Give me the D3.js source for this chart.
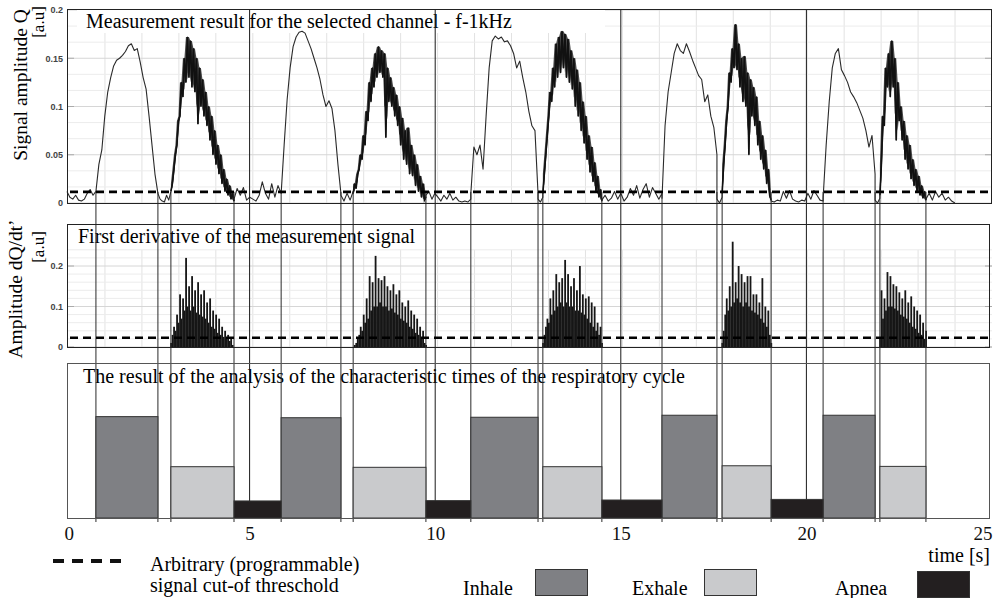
<!DOCTYPE html>
<html><head><meta charset="utf-8">
<script src="https://cdn.jsdelivr.net/npm/d3@7"></script>
<style>body{margin:0;background:#fff} svg{display:block}</style>
</head><body><svg id="c" width="994" height="598"></svg>
<script>
// ---------------- DATA ----------------
const xTicks = [0, 5, 10, 15, 20, 25];
const qTicks = [0, 0.05, 0.1, 0.15, 0.2];
const dqTicks = [0, 0.1, 0.2];
const thresholdQ = 0.0115;
const thresholdDQ = 0.023;
const markerTimes = [5, 10, 15, 20];

const inhaleStart = [0.86, 5.85, 10.96, 16.11, 20.45];
const inhaleEnd   = [2.53, 7.46, 12.77, 17.59, 21.85];
const exhaleStart = [2.88, 7.79, 12.90, 17.73, 21.98];
const exhaleEnd   = [4.58, 9.75, 14.49, 19.05, 23.22];
const apneaStart  = [4.58, 9.75, 14.49, 19.05];
const apneaEnd    = [5.85, 10.96, 16.11, 20.45];
const inhaleLevel = [0.654, 0.647, 0.65, 0.663, 0.663];
const exhaleLevel = [0.331, 0.327, 0.331, 0.337, 0.333];
const apneaLevel  = [0.11, 0.112, 0.116, 0.12];

// low-level (rest) parts of the signal Q between humps
const restStart = [0.08, 2.53, 4.58, 7.46, 9.75, 12.77, 14.49, 17.59, 19.05, 21.85, 23.22];
const restEnd   = [0.86, 2.88, 5.85, 7.79, 10.96, 12.90, 16.11, 17.73, 20.45, 21.98, 24.0];
const qRest = [
  [0.012,0.006,0.004,0.008,0.003,0.002,0.004,0.01,0.014,0.008,0.012],
  [0.01,0.004,0.002,0.001,0.008,0.003,0.012],
  [0.004,0.015,0.008,0.016,0.003,0.006,0.004,0.002,0.008,0.022,0.01,0.004,0.02,0.006,0.018,0.01],
  [0.008,0.002,0.01,0.003,0.012],
  [0.008,0.012,0.004,0.01,0.006,0.002,0.008,0.004,0.01,0.003,0.006,0.002,0.001,0.002,0.001,0.004],
  [0.004,0.001,0.006],
  [0.003,0.008,0.002,0.005,0.012,0.004,0.01,0.002,0.006,0.015,0.008,0.018,0.005,0.014,0.02,0.006,0.016,0.01,0.004,0.01],
  [0.004,0.0,0.006],
  [0.002,0.001,0.003,0.002,0.012,0.005,0.013,0.004,0.002,0.001,0.003,0.002,0.01,0.004,0.013,0.008,0.003,0.002],
  [0.003,0.0,0.005],
  [0.004,0.01,0.003,0.012,0.006,0.01,0.003,0.006,0.002,0.0]
];
// signal Q during inhale
const qInhale = [
  [0.012,0.04,0.055,0.09,0.115,0.13,0.142,0.148,0.15,0.153,0.157,0.163,0.165,0.158,0.16,0.146,0.13,0.118,0.09,0.06,0.03,0.01],
  [0.01,0.06,0.107,0.14,0.162,0.172,0.177,0.178,0.176,0.168,0.16,0.15,0.14,0.128,0.112,0.1,0.106,0.098,0.075,0.04,0.01],
  [0.01,0.058,0.05,0.06,0.035,0.09,0.14,0.168,0.173,0.17,0.172,0.167,0.168,0.163,0.155,0.14,0.147,0.13,0.115,0.095,0.08,0.075,0.01],
  [0.005,0.08,0.115,0.135,0.155,0.165,0.158,0.155,0.165,0.157,0.148,0.14,0.132,0.128,0.105,0.112,0.09,0.078,0.05],
  [0.005,0.06,0.105,0.14,0.155,0.16,0.138,0.132,0.125,0.115,0.11,0.104,0.096,0.088,0.075,0.058,0.07,0.03]
];
// signal Q during exhale (noisy)
const qExhale = [
  [0.012,0.02,0.035,0.05,0.06,0.085,0.09,0.125,0.11,0.15,0.125,0.172,0.13,0.168,0.12,0.16,0.115,0.15,0.082,0.14,0.1,0.128,0.09,0.115,0.08,0.1,0.065,0.09,0.05,0.075,0.04,0.06,0.03,0.05,0.02,0.035,0.012,0.025,0.008,0.018,0.004,0.01,0.002],
  [0.01,0.02,0.015,0.03,0.035,0.05,0.045,0.07,0.06,0.095,0.085,0.125,0.105,0.14,0.12,0.155,0.13,0.162,0.135,0.158,0.13,0.155,0.068,0.14,0.105,0.13,0.1,0.12,0.09,0.112,0.08,0.1,0.06,0.088,0.045,0.075,0.04,0.078,0.03,0.06,0.028,0.05,0.018,0.04,0.012,0.028,0.006,0.02,0.003,0.006],
  [0.01,0.03,0.05,0.07,0.09,0.115,0.105,0.14,0.12,0.165,0.13,0.172,0.135,0.178,0.14,0.175,0.13,0.17,0.125,0.158,0.118,0.15,0.1,0.138,0.09,0.125,0.075,0.105,0.062,0.09,0.045,0.07,0.032,0.058,0.022,0.042,0.012,0.028,0.006,0.014,0.002],
  [0.01,0.04,0.06,0.085,0.1,0.135,0.125,0.16,0.14,0.185,0.138,0.165,0.12,0.15,0.105,0.152,0.1,0.135,0.05,0.128,0.09,0.12,0.08,0.11,0.06,0.085,0.045,0.07,0.035,0.055,0.02,0.035,0.008,0.003],
  [0.008,0.04,0.09,0.08,0.14,0.12,0.155,0.11,0.168,0.12,0.15,0.065,0.125,0.085,0.1,0.065,0.085,0.045,0.07,0.035,0.06,0.025,0.045,0.018,0.035,0.012,0.028,0.008,0.018,0.005,0.012,0.003]
];
// first derivative dQ/dt' during exhale
const dqExhale = [
  [0.01,0.03,0.05,0.04,0.08,0.06,0.13,0.07,0.12,0.09,0.22,0.1,0.15,0.09,0.175,0.1,0.14,0.085,0.16,0.08,0.13,0.075,0.14,0.07,0.11,0.06,0.12,0.05,0.09,0.045,0.08,0.035,0.07,0.03,0.05,0.025,0.04,0.02,0.03,0.015,0.02,0.005,0.0],
  [0.0,0.005,0.01,0.02,0.03,0.05,0.04,0.08,0.06,0.12,0.07,0.175,0.09,0.16,0.1,0.225,0.1,0.17,0.11,0.165,0.1,0.175,0.1,0.15,0.09,0.14,0.095,0.155,0.085,0.13,0.08,0.14,0.07,0.11,0.065,0.1,0.06,0.115,0.05,0.09,0.045,0.08,0.035,0.07,0.03,0.05,0.02,0.04,0.01,0.005],
  [0.01,0.03,0.05,0.07,0.06,0.12,0.08,0.14,0.09,0.18,0.1,0.16,0.11,0.17,0.1,0.215,0.11,0.18,0.1,0.15,0.1,0.17,0.09,0.14,0.09,0.2,0.085,0.13,0.08,0.12,0.07,0.125,0.06,0.11,0.05,0.1,0.04,0.06,0.03,0.05,0.01],
  [0.01,0.04,0.08,0.12,0.09,0.15,0.1,0.26,0.11,0.16,0.12,0.2,0.11,0.18,0.1,0.16,0.11,0.175,0.1,0.175,0.09,0.13,0.085,0.13,0.08,0.11,0.07,0.17,0.06,0.1,0.05,0.09,0.03,0.01],
  [0.02,0.14,0.07,0.12,0.09,0.185,0.1,0.175,0.1,0.155,0.095,0.15,0.09,0.135,0.08,0.12,0.075,0.14,0.07,0.11,0.06,0.125,0.05,0.1,0.045,0.09,0.035,0.08,0.03,0.06,0.02,0.04]
];

// ---------------- DRAWING ----------------
const svg = d3.select("#c");
const serif = "'Liberation Serif','Times New Roman',serif";
const sans = "'Liberation Sans',Arial,sans-serif";

const L = 67, R = 992;
const x = d3.scaleLinear().domain([0, 25]).range([64, 992]);
const gx = d3.scaleLinear().domain([0, 25]).range([68, 992]);
const yQ = d3.scaleLinear().domain([0, 0.2]).range([203, 10]);
const yDQ = d3.scaleLinear().domain([0, 0.2]).range([347, 266]);
const yB = d3.scaleLinear().domain([0, 1]).range([518, 363]);

function seg(t0, t1, vals) {
  const n = vals.length;
  return vals.map((v, i) => [t0 + (t1 - t0) * i / (n - 1), v]);
}

// ---- grids ----
function grid(g, y0, y1, hVals) {
  g.selectAll(".vg").data(d3.range(1, 25)).join("line")
    .attr("x1", d => gx(d)).attr("x2", d => gx(d)).attr("y1", y0).attr("y2", y1)
    .attr("stroke", "#e2e2e2").attr("stroke-width", 1);
  g.selectAll(".hg").data(hVals).join("line")
    .attr("x1", L).attr("x2", R).attr("y1", d => d.y).attr("y2", d => d.y)
    .attr("stroke", d => d.major ? "#d6d6d6" : "#ececec").attr("stroke-width", 1);
}
grid(svg.append("g"), 10, 203, d3.range(0, 13).map(i => ({ y: yQ(i * 0.05 / 3), major: i % 3 === 0 })));
grid(svg.append("g"), yDQ(0.24), 347, d3.range(0, 13).map(i => ({ y: yDQ(i * 0.02), major: i % 5 === 0 })));

// title box (top)
svg.append("rect").attr("x", 77).attr("y", 10).attr("width", 528).attr("height", 23).attr("fill", "#fff");
svg.append("text").attr("x", 86).attr("y", 28).attr("font-family", serif).attr("font-size", 20)
  .text("Measurement result for the selected channel - f-1kHz");
svg.append("text").attr("x", 78).attr("y", 243).attr("font-family", serif).attr("font-size", 20)
  .text("First derivative of the measurement signal");
svg.append("text").attr("x", 83).attr("y", 383).attr("font-family", serif).attr("font-size", 20)
  .text("The result of the analysis of the characteristic times of the respiratory cycle");

// inner ticks
function innerTicks(vals, y) {
  vals.forEach(v => {
    svg.append("line").attr("x1", L).attr("x2", L + 7).attr("y1", y(v)).attr("y2", y(v)).attr("stroke", "#aaa");
    svg.append("line").attr("x1", R - 7).attr("x2", R).attr("y1", y(v)).attr("y2", y(v)).attr("stroke", "#aaa");
  });
}
innerTicks(qTicks.slice(1, 4), yQ);
innerTicks(dqTicks, yDQ);

// ---- signal Q ----
const pieces = [];
qRest.forEach((v, i) => pieces.push(seg(restStart[i], restEnd[i], v)));
qInhale.forEach((v, i) => pieces.push(seg(inhaleStart[i], inhaleEnd[i], v)));
const exPieces = qExhale.map((v, i) => seg(exhaleStart[i], exhaleEnd[i], v));
exPieces.forEach(p => pieces.push(p));
pieces.sort((a, b) => a[0][0] - b[0][0]);
const signal = pieces.flat();
const qLine = d3.line().x(d => x(d[0])).y(d => yQ(d[1]));
// dense band of the noisy exhale signal (local min/max of neighbouring samples)
const band = d3.area().x(d => x(d.t)).y0(d => yQ(d.lo)).y1(d => yQ(d.hi));
svg.append("g").selectAll("path").data(exPieces.map(p => p.map((d, i) => {
    const nb = p.slice(Math.max(0, i - 1), i + 2).map(e => e[1]);
    const s = nb.slice().sort((a, b) => a - b);
    return { t: d[0], lo: s.length > 2 ? (s[0] + s[1]) / 2 : s[0], hi: s[s.length - 1] };
  }))).join("path").attr("d", band).attr("fill", "#1a1a1a").attr("fill-opacity", 0.8);
svg.append("path").datum(signal).attr("d", qLine)
  .attr("fill", "none").attr("stroke", "#2a2a2a").attr("stroke-width", 1.1).attr("stroke-linejoin", "round");
svg.append("g").selectAll("path").data(exPieces).join("path").attr("d", qLine)
  .attr("fill", "none").attr("stroke", "#111").attr("stroke-width", 1.6).attr("stroke-linejoin", "miter");

// ---- derivative bars ----
const dqBars = [];
dqExhale.forEach((v, i) => seg(exhaleStart[i], exhaleEnd[i], v).forEach(p => dqBars.push(p)));
const bw = (x(exhaleEnd[0]) - x(exhaleStart[0])) / (dqExhale[0].length - 1);
svg.append("g").selectAll("rect").data(dqBars).join("rect")
  .attr("x", d => x(d[0]) - bw / 2).attr("width", bw + 0.3)
  .attr("y", d => yDQ(d[1])).attr("height", d => yDQ(0) - yDQ(d[1]))
  .attr("fill", "#161616");

// ---- vertical phase lines ----
const bounds = Array.from(new Set([...inhaleStart, ...inhaleEnd, ...exhaleStart, ...exhaleEnd])).sort((a, b) => a - b);
svg.append("g").selectAll("line").data(bounds).join("line")
  .attr("x1", d => x(d)).attr("x2", d => x(d)).attr("y1", yQ(thresholdQ)).attr("y2", 522)
  .attr("stroke", "#2a2a2a").attr("stroke-width", 1);
svg.append("g").selectAll("line").data(markerTimes).join("line")
  .attr("x1", d => x(d)).attr("x2", d => x(d)).attr("y1", 9).attr("y2", 518)
  .attr("stroke", "#1a1a1a").attr("stroke-width", 1);

// ---- thresholds ----
svg.append("line").attr("x1", 70).attr("x2", R).attr("y1", yQ(thresholdQ)).attr("y2", yQ(thresholdQ))
  .attr("stroke", "#000").attr("stroke-width", 2.6).attr("stroke-dasharray", "8,5");
svg.append("line").attr("x1", 70).attr("x2", 990).attr("y1", yDQ(thresholdDQ)).attr("y2", yDQ(thresholdDQ))
  .attr("stroke", "#000").attr("stroke-width", 2.6).attr("stroke-dasharray", "8,5");

// ---- bottom panel bars ----
const bars = [];
inhaleStart.forEach((s, i) => bars.push({ s, e: inhaleEnd[i], v: inhaleLevel[i], c: "#7f8084" }));
exhaleStart.forEach((s, i) => bars.push({ s, e: exhaleEnd[i], v: exhaleLevel[i], c: "#c9cacc" }));
apneaStart.forEach((s, i) => bars.push({ s, e: apneaEnd[i], v: apneaLevel[i], c: "#231f20" }));
svg.append("g").selectAll("rect").data(bars).join("rect")
  .attr("x", d => x(d.s)).attr("width", d => x(d.e) - x(d.s))
  .attr("y", d => yB(d.v)).attr("height", d => yB(0) - yB(d.v))
  .attr("fill", d => d.c).attr("stroke", "#333").attr("stroke-width", 1);

// ---- frames ----
svg.append("rect").attr("x", L + 0.5).attr("y", 9.5).attr("width", R - L - 1).attr("height", 194)
  .attr("fill", "none").attr("stroke", "#222");
svg.append("rect").attr("x", L + 0.5).attr("y", 224.5).attr("width", 990 - L - 1).attr("height", 123)
  .attr("fill", "none").attr("stroke", "#222");
svg.append("rect").attr("x", L + 0.5).attr("y", 363.5).attr("width", 990 - L - 1).attr("height", 155)
  .attr("fill", "none").attr("stroke", "#555");

// ---- y axes ----
function yAxis(scale, ticks) {
  const g = svg.append("g").attr("transform", `translate(${L},0)`)
    .call(d3.axisLeft(scale).tickValues(ticks).tickSize(0).tickPadding(4).tickFormat(d3.format("~g")));
  g.select(".domain").remove();
  g.selectAll("text").attr("font-family", sans).attr("font-size", 9).attr("font-weight", "bold").attr("fill", "#444");
}
yAxis(yQ, qTicks);
yAxis(yDQ, dqTicks);

function vtext(tx, ty, s, size) {
  svg.append("text").attr("transform", `translate(${tx},${ty}) rotate(-90)`)
    .attr("text-anchor", "middle").attr("font-family", serif).attr("font-size", size).text(s);
}
vtext(27, 85, "Signal amplitude Q", 19.5);
vtext(44, 22, "[a.u]", 17);
vtext(22, 289, "Amplitude dQ/dt\u2019", 19.5);
vtext(44, 247, "[a.u]", 17);

// ---- x axis ----
const xa = svg.append("g").attr("transform", "translate(0,518)")
  .call(d3.axisBottom(x).tickValues(xTicks).tickSize(0).tickPadding(9).tickFormat(d3.format("d")));
xa.select(".domain").remove();
xa.selectAll("text").attr("font-family", serif).attr("font-size", 19).attr("fill", "#111")
  .attr("text-anchor", d => d === 0 ? "start" : (d === 25 ? "end" : "middle"));
svg.append("text").attr("x", 990).attr("y", 562).attr("text-anchor", "end")
  .attr("font-family", serif).attr("font-size", 20).text("time [s]");

// ---- legend ----
svg.append("line").attr("x1", 53).attr("x2", 121).attr("y1", 561).attr("y2", 561)
  .attr("stroke", "#111").attr("stroke-width", 4).attr("stroke-dasharray", "11,8");
svg.append("text").attr("x", 150).attr("y", 571).attr("font-family", serif).attr("font-size", 20).text("Arbitrary (programmable)");
svg.append("text").attr("x", 150).attr("y", 592).attr("font-family", serif).attr("font-size", 20).text("signal cut-of threschold");
const leg = [
  { t: "Inhale", tx: 463, bx: 535, by: 569, c: "#7f8084" },
  { t: "Exhale", tx: 632, bx: 704, by: 569, c: "#c9cacc" },
  { t: "Apnea", tx: 835, bx: 917, by: 571, c: "#231f20" }
];
leg.forEach(d => {
  svg.append("text").attr("x", d.tx).attr("y", 595).attr("font-family", serif).attr("font-size", 20).text(d.t);
  svg.append("rect").attr("x", d.bx + 0.5).attr("y", d.by + 0.5).attr("width", 52).attr("height", 26)
    .attr("fill", d.c).attr("stroke", "#333");
});
</script></body></html>
